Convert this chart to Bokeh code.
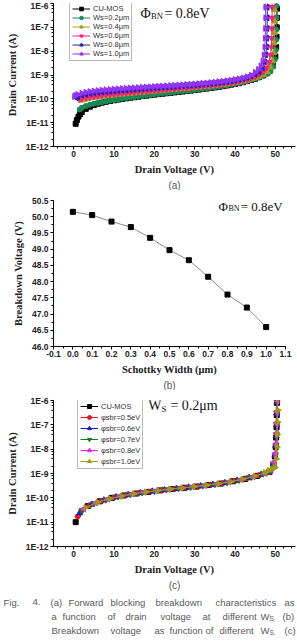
from bokeh.plotting import figure
from bokeh.layouts import column
from bokeh.models import (Range1d, Legend, LegendItem, Label, Title, LogTicker,
                          SingleIntervalTicker, CustomJSTickFormatter,
                          NumeralTickFormatter, ColumnDataSource)
from bokeh.core.properties import value
from bokeh.embed import file_html
from bokeh.resources import INLINE

# ---------------------------------------------------------------- data
PA = 1e-12  # drain currents below are listed in pA

# integer drain-voltage grid of the sweep plateau (V)
GRID_V = [3, 4, 5, 6, 7, 8, 9, 10, 11, 12, 13, 14, 15, 16, 17, 18, 19, 20,
          21, 22, 23, 24, 25, 26, 27, 28, 29, 30, 31, 32, 33, 34, 35, 36, 37,
          38, 39, 40, 41, 42, 43, 44, 45, 46, 47, 48]

# (a) forward blocking I-V for different Schottky widths, phi_BN = 0.8 eV
A_LABELS = ["CU-MOS", "Ws=0.2μm", "Ws=0.4μm", "Ws=0.6μm", "Ws=0.8μm", "Ws=1.0μm"]

CU_A_V = [0.5, 0.8, 1.2, 1.6, 2.0] + GRID_V + [48.6, 49.4, 50.0, 50.2, 50.3, 50.35, 50.4, 50.4, 50.4]
CU_A_I = [9, 13, 18, 23, 28,
          38, 47, 55, 62, 69, 75, 81, 87, 93, 99, 105, 111, 117, 123, 130, 136,
          143, 150, 157, 164, 171, 178, 186, 194, 203, 212, 222, 232, 244, 256,
          270, 285, 300, 318, 338, 362, 390, 420, 455, 500, 555, 620, 700, 810,
          960, 1200,
          1500, 2600, 6000, 15000, 40000, 100000, 250000, 600000, 1500000]

W02_A_V = [1.5, 2.0] + GRID_V + [48.8, 49.5, 49.9, 50.1, 50.2, 50.25, 50.3, 50.3, 50.3]
W02_A_I = [36, 42,
           50, 56, 62, 67, 72, 78, 84, 90, 96, 102, 108, 114, 120, 126, 132, 139,
           146, 153, 160, 167, 174, 182, 190, 198, 207, 216, 226, 236, 248, 260,
           274, 289, 305, 323, 343, 367, 395, 425, 460, 505, 560, 625, 700, 800,
           930, 1120,
           1400, 2200, 4500, 11000, 30000, 80000, 250000, 800000, 2000000]

W04_A_V = [1.8, 2.5] + GRID_V[:45] + [48.0, 48.8, 49.3, 49.6, 49.75, 49.8, 49.85, 49.85, 49.85]
W04_A_I = [86, 92,
           97, 105, 112, 118, 124, 130, 136, 142, 148, 154, 160, 166, 172, 179,
           186, 193, 200, 208, 215, 222, 229, 237, 245, 253, 262, 271, 281, 292,
           303, 315, 328, 342, 357, 374, 393, 415, 440, 470, 505, 548, 600, 665,
           750, 865, 1030,
           1350, 2100, 3800, 8500, 22000, 60000, 180000, 550000, 2000000]

W06_A_V = [1.5, 2.0] + GRID_V[:44] + [47.0, 47.8, 48.4, 48.8, 49.0, 49.1, 49.15, 49.2, 49.2, 49.2]
W06_A_I = [98, 103,
           110, 118, 126, 133, 140, 147, 153, 159, 165, 171, 177, 183, 189, 196,
           203, 210, 217, 225, 232, 240, 248, 256, 264, 273, 282, 292, 302, 313,
           325, 338, 352, 367, 383, 401, 421, 445, 472, 505, 545, 595, 660, 745,
           870, 1060,
           1350, 2000, 3500, 7000, 15000, 35000, 90000, 250000, 700000, 2000000]

W08_A_V = [0.6, 1.0, 2.0] + GRID_V[:43] + [46.0, 46.8, 47.3, 47.6, 47.8, 47.9, 47.95, 48.0, 48.0, 48.0]
W08_A_I = [112, 125, 142,
           156, 168, 178, 187, 195, 202, 209, 216, 223, 230, 237, 244, 251, 258,
           266, 274, 282, 290, 298, 306, 314, 322, 331, 340, 350, 360, 371, 383,
           396, 410, 425, 441, 459, 479, 502, 528, 558, 595, 640, 700, 780, 900,
           1080,
           1350, 2000, 3500, 7000, 15000, 35000, 90000, 250000, 700000, 2000000]

W10_A_V = [0.2, 0.5, 1.0, 2.0] + GRID_V[:42] + [45.0, 45.8, 46.4, 46.9, 47.2, 47.4, 47.5, 47.55, 47.6, 47.6, 47.6]
W10_A_I = [125, 138, 152, 172,
           188, 201, 212, 222, 231, 239, 247, 255, 262, 269, 276, 283, 290, 297,
           304, 311, 318, 326, 334, 342, 350, 358, 367, 376, 386, 396, 407, 419,
           432, 446, 461, 478, 497, 518, 542, 570, 603, 642, 690, 755, 845, 980,
           1300, 1700, 2400, 3800, 7000, 15000, 35000, 90000, 250000, 700000, 2000000]

# (b) breakdown voltage against Schottky width
WS_B = [0.0, 0.1, 0.2, 0.3, 0.4, 0.5, 0.6, 0.7, 0.8, 0.9, 1.0]
BV_B = [50.15, 50.05, 49.85, 49.68, 49.35, 48.97, 48.66, 48.15, 47.6, 47.2, 46.6]

# (c) forward blocking I-V for different barrier heights, Ws = 0.2 um
C_LABELS = ["CU-MOS", "φsbr=0.5eV", "φsbr=0.6eV", "φsbr=0.7eV", "φsbr=0.8eV", "φsbr=1.0eV"]

CU_C_V = [0.5, 3.5, 6.5, 9.5, 12.5, 15.5, 18.5, 21.5, 24.5, 27.5, 30.5, 33.5, 36.5,
          39.5, 42.5, 45.5, 48.5, 49.5, 49.9, 50.1, 50.2, 50.3, 50.35, 50.4, 50.4]
CU_C_I = [10, 46, 72, 100, 125, 150, 175, 202, 230, 260, 290, 335, 385, 480, 600,
          800, 1150, 2200, 5000, 12000, 30000, 80000, 250000, 800000, 2500000]

B05_C_V = [1.0, 4.0, 7.0, 10.0, 13.0, 16.0, 19.0, 22.0, 25.0, 28.0, 31.0, 34.0,
           37.0, 40.0, 43.0, 46.0, 48.5, 49.6, 50.0, 50.2, 50.3, 50.4, 50.45, 50.5, 50.5]
B05_C_I = [17, 50, 76, 105, 130, 155, 181, 208, 235, 265, 297, 345, 400, 500, 640,
           860, 1150, 2500, 6000, 15000, 40000, 110000, 300000, 900000, 2500000]

B06_C_V = [1.5, 4.5, 7.5, 10.5, 13.5, 16.5, 19.5, 22.5, 25.5, 28.5, 31.5, 34.5,
           37.5, 40.5, 43.5, 46.5, 48.5, 49.5, 49.9, 50.1, 50.2, 50.3, 50.35, 50.4, 50.4]
B06_C_I = [24, 54, 80, 108, 135, 160, 186, 212, 240, 270, 305, 352, 415, 520, 670,
           920, 1150, 2300, 5500, 14000, 35000, 100000, 300000, 900000, 2500000]

B07_C_V = [2.0, 5.0, 8.0, 11.0, 14.0, 17.0, 20.0, 23.0, 26.0, 29.0, 32.0, 35.0,
           38.0, 41.0, 44.0, 47.0, 48.8, 49.6, 50.0, 50.2, 50.3, 50.35, 50.4, 50.45, 50.45]
B07_C_I = [30, 58, 84, 112, 140, 165, 190, 218, 245, 277, 315, 360, 430, 540, 710,
           980, 1250, 2500, 6000, 15000, 40000, 110000, 320000, 900000, 2500000]

B08_C_V = [2.5, 5.5, 8.5, 11.5, 14.5, 17.5, 20.5, 23.5, 26.5, 29.5, 32.5, 35.5,
           38.5, 41.5, 44.5, 47.5, 49.0, 49.7, 50.0, 50.2, 50.3, 50.35, 50.4, 50.45, 50.45]
B08_C_I = [35, 62, 88, 116, 143, 170, 195, 223, 250, 283, 322, 370, 445, 560, 740,
           1020, 1400, 3000, 6600, 16000, 45000, 120000, 350000, 1000000, 2500000]

B10_C_V = [3.0, 6.0, 9.0, 12.0, 15.0, 18.0, 21.0, 24.0, 27.0, 30.0, 33.0, 36.0,
           39.0, 42.0, 45.0, 47.5, 48.5, 49.3, 49.9, 50.2, 50.4, 50.5, 50.55, 50.6, 50.6, 50.6]
B10_C_I = [40, 66, 92, 120, 146, 175, 200, 228, 256, 290, 330, 380, 460, 590, 780,
           1100, 1350, 1550, 1750, 4000, 12000, 40000, 130000, 400000, 1200000, 3000000]

# ---------------------------------------------------------------- styles
A_STYLE = [("#000000", "square", 0.0, 5),
           ("#178a55", "circle", 0.0, 5),
           ("#a3a019", "triangle", 0.0, 6),
           ("#f0247c", "inverted_triangle", 0.0, 6),
           ("#2424a8", "triangle", 1.5708, 6),
           ("#9433f5", "triangle", -1.5708, 6)]
C_STYLE = [("#000000", "square", 0.0, 5),
           ("#e81818", "circle", 0.0, 5),
           ("#1a1ad0", "triangle", 0.0, 6),
           ("#127a1e", "inverted_triangle", 0.0, 6),
           ("#ec22ec", "triangle", 1.5708, 6),
           ("#9c9c14", "triangle", -1.5708, 6)]

TICK_FONT = "Liberation Sans"
TITLE_FONT = "Liberation Serif"
INK = "#222222"
W = 297


def base_figure(height, x_range, y_range, y_log, top, bottom, right):
    p = figure(width=W, height=height, x_range=x_range, y_range=y_range,
               y_axis_type="log" if y_log else "linear",
               output_backend="svg", toolbar_location=None,
               min_border_left=53, min_border_right=right,
               min_border_top=top, min_border_bottom=bottom)
    p.frame_align = False   # each panel keeps its own frame edges
    p.grid.visible = False
    p.outline_line_color = None
    p.background_fill_color = "white"
    p.border_fill_color = "white"
    return p


def style_axes(p, xlabel, ylabel):
    for ax in (p.xaxis[0], p.yaxis[0]):
        ax.axis_line_color = "black"
        ax.axis_line_width = 1
        ax.major_tick_out = 3
        ax.major_tick_in = 0
        ax.minor_tick_out = 2
        ax.minor_tick_in = 0
        ax.major_tick_line_color = "black"
        ax.minor_tick_line_color = "black"
        ax.major_label_text_font = TICK_FONT
        ax.major_label_text_font_style = "bold"
        ax.major_label_text_font_size = "8.5px"
        ax.major_label_text_color = INK
        ax.axis_label_text_font = TITLE_FONT
        ax.axis_label_text_font_style = "bold"
        ax.axis_label_text_font_size = "10.5px"
        ax.axis_label_text_color = INK
    p.xaxis.axis_label = xlabel
    p.yaxis.axis_label = ylabel
    p.xaxis.major_label_standoff = 1
    p.xaxis.axis_label_standoff = 4
    p.yaxis.major_label_standoff = 2
    p.yaxis.axis_label_standoff = 5


def panel_tag(p, text, shift):
    p.add_layout(Title(text=text, align="center", offset=shift,
                       text_font="Liberation Sans", text_font_size="10px",
                       text_font_style="normal", text_color="#555555",
                       standoff=0), "below")


def draw_series(p, v, i_pa, style):
    color, marker, angle, size = style
    src = ColumnDataSource(dict(v=v, i=[c * PA for c in i_pa]))
    ln = p.line("v", "i", source=src, line_color=color, line_width=1)
    sc = p.scatter("v", "i", source=src, marker=marker, size=size, angle=angle,
                   fill_color=color, line_color=color)
    return [ln, sc]


def add_legend(p, labels, renderer_sets, loc, row_h, gap):
    items = [LegendItem(label=l, renderers=r) for l, r in zip(labels, renderer_sets)]
    lg = Legend(items=items, location=loc, margin=0, padding=2, spacing=gap,
                glyph_width=18, glyph_height=row_h, label_height=row_h,
                label_standoff=3, label_text_font=TICK_FONT,
                label_text_font_size="7.5px", label_text_color="#333333",
                border_line_color="#777777", border_line_width=1,
                background_fill_color="white", background_fill_alpha=1.0)
    p.add_layout(lg)


def log_axis_setup(p):
    p.yaxis.ticker = LogTicker(desired_num_ticks=7, mantissas=[1], num_minor_ticks=5)
    p.yaxis.formatter = CustomJSTickFormatter(code="return '1E' + Math.round(Math.log10(tick));")
    p.xaxis.ticker = SingleIntervalTicker(interval=10, num_minor_ticks=5)


def serif_label(p, x, y, text, size):
    p.add_layout(Label(x=x, y=y, text=text, text_font=TITLE_FONT,
                       text_font_size=size, text_color="#111111",
                       text_baseline="middle", text_align="left"))


# ---------------------------------------------------------------- (a)
pa = base_figure(190, Range1d(-5, 55), Range1d(1e-12, 1e-6), True, 3, 42, 2)
style_axes(pa, "Drain Voltage (V)", "Drain Current (A)")
log_axis_setup(pa)
a_sets = [draw_series(pa, v, i, s) for v, i, s in zip(
    [CU_A_V, W02_A_V, W04_A_V, W06_A_V, W08_A_V, W10_A_V],
    [CU_A_I, W02_A_I, W04_A_I, W06_A_I, W08_A_I, W10_A_I], A_STYLE)]
add_legend(pa, A_LABELS, a_sets, (16, 85), 9, 0)
serif_label(pa, 16.6, 10 ** -6.41, "Φ", "14px")
serif_label(pa, 19.2, 10 ** -6.53, "BN", "8.5px")
serif_label(pa, 22.5, 10 ** -6.41, "= 0.8eV", "14px")
panel_tag(pa, "(a)", -25)

# ---------------------------------------------------------------- (b)
pb = base_figure(200, Range1d(-0.1, 1.1), Range1d(46.0, 50.5), False, 10, 43, 12)
style_axes(pb, "Schottky Width (μm)", "Breakdown Voltage (V)")
pb.xaxis.ticker = SingleIntervalTicker(interval=0.1, num_minor_ticks=2)
pb.yaxis.ticker = SingleIntervalTicker(interval=0.5, num_minor_ticks=2)
pb.xaxis.formatter = NumeralTickFormatter(format="0.0")
pb.yaxis.formatter = NumeralTickFormatter(format="0.0")
src_b = ColumnDataSource(dict(ws=WS_B, bv=BV_B))
pb.line("ws", "bv", source=src_b, line_color="#8a8a8a", line_width=1)
pb.scatter("ws", "bv", source=src_b, marker="square", size=5,
           fill_color="black", line_color="black")
serif_label(pb, 0.754, 50.33, "Φ", "13px")
serif_label(pb, 0.805, 50.24, "BN", "8px")
serif_label(pb, 0.868, 50.33, "= 0.8eV", "13px")
panel_tag(pb, "(b)", -20)

# ---------------------------------------------------------------- (c)
pc = base_figure(202, Range1d(-5, 55), Range1d(1e-12, 1e-6), True, 10, 46, 2)
style_axes(pc, "Drain Voltage (V)", "Drain Current (A)")
log_axis_setup(pc)
c_sets = [draw_series(pc, v, i, s) for v, i, s in zip(
    [CU_C_V, B05_C_V, B06_C_V, B07_C_V, B08_C_V, B10_C_V],
    [CU_C_I, B05_C_I, B06_C_I, B07_C_I, B08_C_I, B10_C_I], C_STYLE)]
add_legend(pc, C_LABELS, c_sets, (24, 77), 10, 1)
serif_label(pc, 18.5, 10 ** -6.21, "W", "14px")
serif_label(pc, 21.8, 10 ** -6.33, "S", "9px")
serif_label(pc, 24.0, 10 ** -6.21, "= 0.2μm", "14px")
panel_tag(pc, "(c)", -25)

# ---------------------------------------------------------------- caption
CAPTION_WORDS = [
    ["Fig.", "4.", "(a)", "Forward", "blocking", "breakdown", "characteristics", "as"],
    ["a", "function", "of", "drain", "voltage", "at", "different", "W", "(b)"],
    ["Breakdown", "voltage", "as", "function", "of", "different", "W", "(c)"],
]
# caption layout: word start positions (px from the left page edge) and line centres
CAPTION_X = [
    [3, 32, 50, 68, 110, 155, 215, 284],
    [51, 62, 107, 125, 160, 202, 222, 260, 282],
    [51, 110, 154, 169, 205, 219, 260, 284],
]
CAPTION_Y = [9.5, 23.5, 37.5]
SUB_X = [[], [269], [269]]

cap = figure(width=W, height=50, x_range=Range1d(0, W), y_range=Range1d(50, 0),
             output_backend="svg", toolbar_location=None,
             x_axis_location=None, y_axis_location=None,
             min_border_left=0, min_border_right=0, min_border_top=0,
             min_border_bottom=0)
cap.frame_align = False
cap.grid.visible = False
cap.outline_line_color = None
for words, xs, y, subs in zip(CAPTION_WORDS, CAPTION_X, CAPTION_Y, SUB_X):
    cap.text(x=xs, y=[y] * len(xs), text=words, text_font=value("Liberation Sans"),
             text_font_size="9.5px", text_color="#5a5a5a",
             text_baseline="middle", text_align="left")
    if subs:
        cap.text(x=subs, y=[y + 2.5] * len(subs), text=["S,"] * len(subs),
                 text_font=value("Liberation Sans"), text_font_size="6.5px",
                 text_color="#5a5a5a", text_baseline="middle", text_align="left")

layout = column(pa, pb, pc, cap, spacing=0)
open("out.html", "w").write(file_html(layout, INLINE))
